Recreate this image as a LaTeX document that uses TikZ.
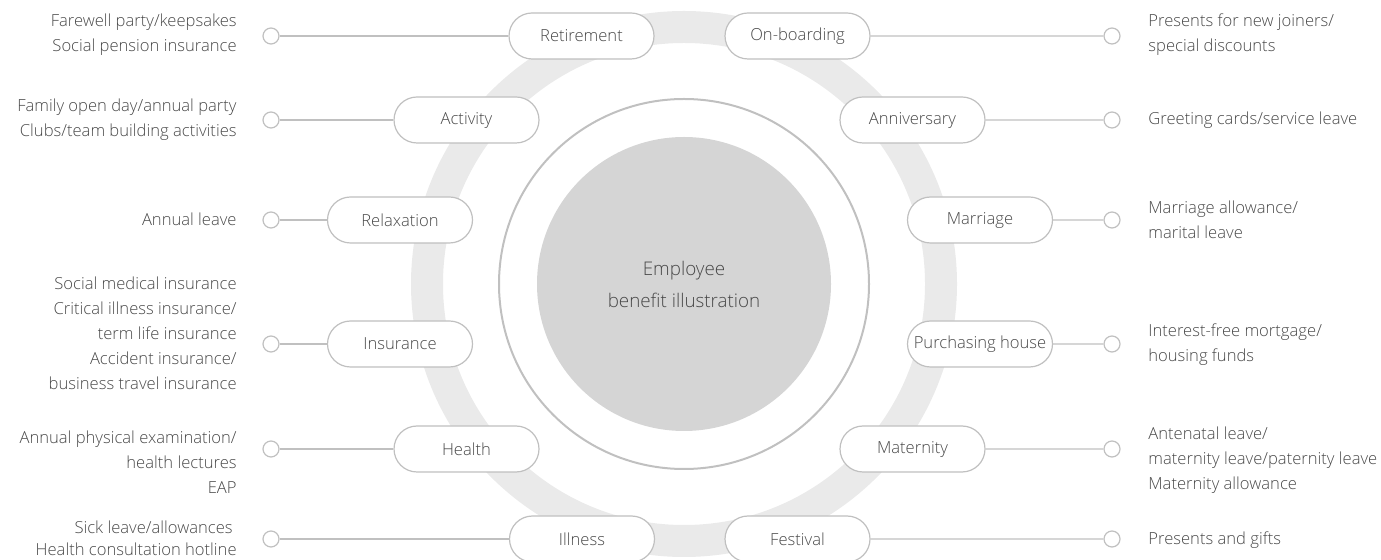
\documentclass[tikz,border=0pt]{standalone}
\usepackage{fontspec}
\IfFontExistsTF{Open Sans Light}{\setmainfont{Open Sans Light}}{\setmainfont{Open Sans}}
\usepackage{tikz}
\usetikzlibrary{positioning,shapes.misc}
\definecolor{ringgray}{RGB}{234,234,234}
\definecolor{diskgray}{RGB}{213,213,213}
\definecolor{edgegray}{RGB}{192,192,192}
\definecolor{textgray}{RGB}{72,72,72}
\tikzset{
  benefit/.style={rounded rectangle, draw=edgegray, fill=white, line width=0.6pt,
                  minimum width=72.5pt, minimum height=23pt, inner sep=0pt,
                  font=\fontsize{8.3}{12.5}\selectfont, text=textgray},
  dotend/.style={circle, draw=edgegray, fill=white, line width=0.6pt,
                 minimum size=8pt, inner sep=0pt},
  link/.style={draw=edgegray, line width=0.6pt},
  ltext/.style={anchor=east, align=right, inner sep=0pt,
                font=\fontsize{8.3}{12.5}\selectfont, text=textgray},
  rtext/.style={anchor=west, align=left, inner sep=0pt,
                font=\fontsize{8.3}{12.5}\selectfont, text=textgray},
}
\begin{document}
\begin{tikzpicture}[x=0.5pt, y=-0.5pt]
  \useasboundingbox (0,0) rectangle (1381,560);
  % Rings and centre disk
  \draw[ringgray, line width=16pt] (684,284) circle (128.5pt);
  \draw[edgegray, line width=1pt] (684,284) circle (92.5pt);
  \fill[diskgray] (684,284) circle (73.5pt);
  \node[align=center, font=\fontsize{9.4}{16}\selectfont, text=textgray] (core) at (684,284)
    {Employee\\benefit illustration};
  % Left column
  \node[benefit] (retire) at (581.5,36) {Retirement};
  \node[benefit] (activity) at (466.5,120) {Activity};
  \node[benefit] (relax) at (400,220) {Relaxation};
  \node[benefit] (insure) at (400,344) {Insurance};
  \node[benefit] (health) at (466.5,449) {Health};
  \node[benefit] (ill) at (582,539) {Illness};
  \node[dotend] (lretire) at (271,36) {};
  \node[dotend] (lactivity) at (271,120) {};
  \node[dotend] (lrelax) at (271,220) {};
  \node[dotend] (linsure) at (271,344) {};
  \node[dotend] (lhealth) at (271,449) {};
  \node[dotend] (lill) at (271,539) {};
  \draw[link] (lretire) -- (retire);
  \draw[link] (lactivity) -- (activity);
  \draw[link] (lrelax) -- (relax);
  \draw[link] (linsure) -- (insure);
  \draw[link] (lhealth) -- (health);
  \draw[link] (lill) -- (ill);
  \node[ltext] (tretire) at (237,35) {Farewell party/keepsakes\\Social pension insurance};
  \node[ltext] (tactivity) at (237,120) {Family open day/annual party\\Clubs/team building activities};
  \node[ltext] (trelax) at (237,219) {Annual leave};
  \node[ltext] (tinsure) at (237,333) {Social medical insurance\\Critical illness insurance/\\term life insurance\\Accident insurance/\\business travel insurance};
  \node[ltext] (thealth) at (237,462) {Annual physical examination/\\health lectures\\EAP};
  \node[ltext, font=\fontsize{8.3}{11}\selectfont] (till) at (237,538)
    {Sick leave/allowances\hspace*{2pt}\\Health consultation hotline};
  % Right column
  \node[benefit] (onboard) at (797.5,36) {On-boarding};
  \node[benefit] (anniv) at (912.5,120) {Anniversary};
  \node[benefit] (marry) at (980,220) {Marriage};
  \node[benefit] (house) at (980,344) {Purchasing house};
  \node[benefit] (mater) at (912.5,449) {Maternity};
  \node[benefit] (fest) at (797.5,539) {Festival};
  \node[dotend] (ronboard) at (1112,36) {};
  \node[dotend] (ranniv) at (1112,120) {};
  \node[dotend] (rmarry) at (1112,220) {};
  \node[dotend] (rhouse) at (1112,344) {};
  \node[dotend] (rmater) at (1112,449) {};
  \node[dotend] (rfest) at (1112,539) {};
  \draw[link] (onboard) -- (ronboard);
  \draw[link] (anniv) -- (ranniv);
  \draw[link] (marry) -- (rmarry);
  \draw[link] (house) -- (rhouse);
  \draw[link] (mater) -- (rmater);
  \draw[link] (fest) -- (rfest);
  \node[rtext] (tonboard) at (1148,35) {Presents for new joiners/\\special discounts};
  \node[rtext] (tanniv) at (1148,120) {Greeting cards/service leave};
  \node[rtext] (tmarry) at (1148,219.5) {Marriage allowance/\\marital leave};
  \node[rtext] (thouse) at (1148,345) {Interest-free mortgage/\\housing funds};
  \node[rtext] (tmater) at (1148,460) {Antenatal leave/\\maternity leave/paternity leave\\Maternity allowance};
  \node[rtext] (tfest) at (1148,540) {Presents and gifts};
\end{tikzpicture}
\end{document}
